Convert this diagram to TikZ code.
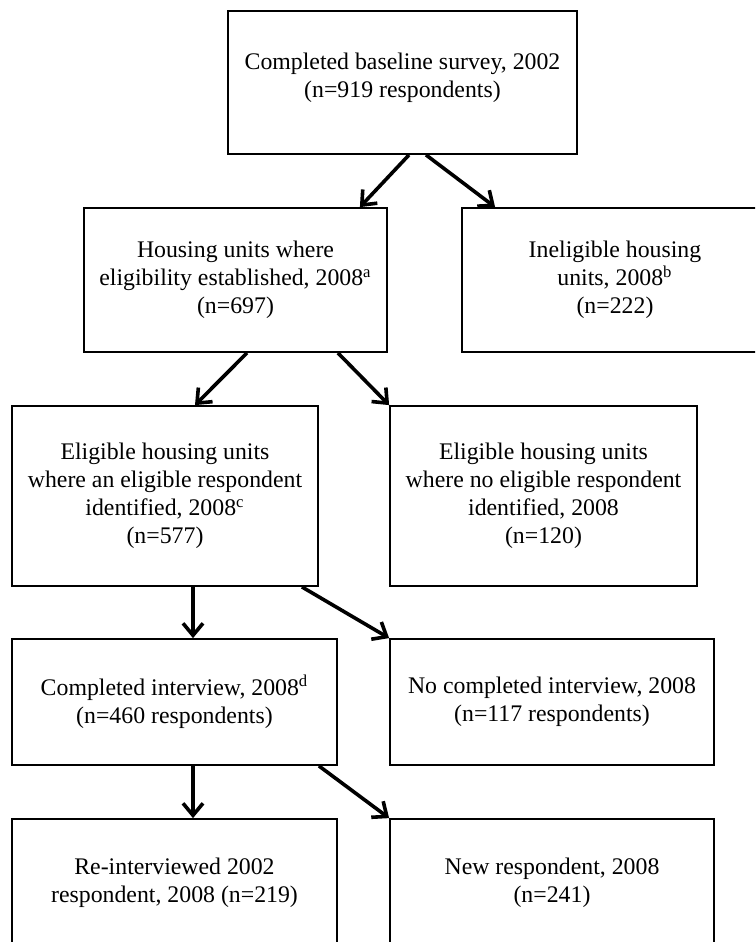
\documentclass[tikz,border=0pt]{standalone}
\usepackage{fontspec}
\setmainfont{Liberation Serif}
\usetikzlibrary{arrows.meta}
\tikzset{
  stagebox/.style = {
    draw, line width=0.9pt, align=center, inner sep=2pt,
    font=\fontsize{11.9}{14}\selectfont
  },
  flow/.style = {
    line width=1.8pt, -{Straight Barb[length=6pt,width=10pt]}
  }
}

\begin{document}
\begin{tikzpicture}[x=0.5pt,y=-0.5pt]
  \clip (0,0) rectangle (755,942);
  \fill[white] (0,0) rectangle (755,942);
  % boxes
  \node[stagebox,minimum width=174.5pt,minimum height=71.5pt] (base) at (402.5,82.5)
    {Completed baseline survey, 2002\\(n=919 respondents)\rule[-7.5pt]{0pt}{7.5pt}};
  \node[stagebox,minimum width=151.5pt,minimum height=72pt] (elig) at (235.5,280)
    {Housing units where\\eligibility established, 2008\textsuperscript{a}\\(n=697)};
  \node[stagebox,minimum width=153pt,minimum height=72pt] (inelig) at (615,280)
    {Ineligible housing\\units, 2008\textsuperscript{b}\\(n=222)};
  \node[stagebox,minimum width=153pt,minimum height=90pt] (resp) at (165,496)
    {Eligible housing units\\where an eligible respondent\\identified, 2008\textsuperscript{c}\\(n=577)};
  \node[stagebox,minimum width=153.5pt,minimum height=90pt] (noresp) at (543.5,496)
    {Eligible housing units\\where no eligible respondent\\identified, 2008\\(n=120)};
  \node[stagebox,minimum width=162.5pt,minimum height=63pt] (done) at (174.5,702)
    {Completed interview, 2008\textsuperscript{d}\\(n=460 respondents)};
  \node[stagebox,minimum width=162pt,minimum height=63pt] (notdone) at (552,702)
    {No completed interview, 2008\\(n=117 respondents)};
  \node[stagebox,minimum width=162.5pt,minimum height=64pt] (reint) at (174.5,883)
    {Re-interviewed 2002\\respondent, 2008 (n=219)};
  \node[stagebox,minimum width=162pt,minimum height=64pt] (newresp) at (552,883)
    {New respondent, 2008\\(n=241)};
  % arrows
  \draw[flow] ([xshift=3.25pt]base.south) -- ([xshift=-14pt]elig.north east);
  \draw[flow] ([xshift=11.75pt]base.south) -- ([xshift=17pt]inelig.north west);
  \draw[flow] ([xshift=5.75pt]elig.south) -- ([xshift=15pt]resp.north);
  \draw[flow] ([xshift=-25pt]elig.south east) -- (noresp.north west);
  \draw[flow] ([xshift=14pt]resp.south) -- ([xshift=9.25pt]done.north);
  \draw[flow] ([xshift=-8.5pt]resp.south east) -- (notdone.north west);
  \draw[flow] ([xshift=9.25pt]done.south) -- ([xshift=9.25pt]reint.north);
  \draw[flow] ([xshift=-9.5pt]done.south east) -- (newresp.north west);
\end{tikzpicture}
\end{document}
